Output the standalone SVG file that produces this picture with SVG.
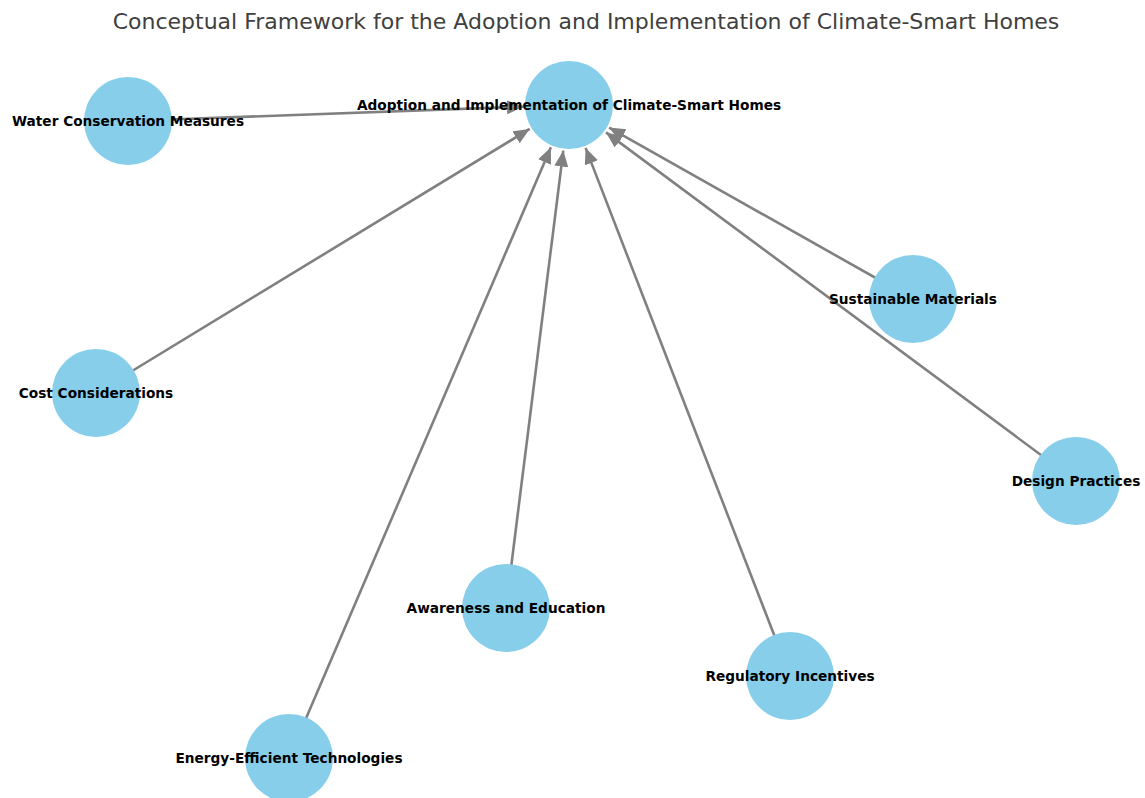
<svg xmlns="http://www.w3.org/2000/svg" width="1145" height="798" viewBox="0 0 1145 798">
<style>
.title{font-family:"DejaVu Sans",sans-serif;font-size:22px;fill:#404040;text-anchor:middle}
.node circle{fill:#87CEEB}
.node text{font-family:"DejaVu Sans",sans-serif;font-weight:bold;font-size:13.7px;fill:#000;text-anchor:middle;dominant-baseline:central}
.edge{stroke:#808080;stroke-width:2.6;fill:none;marker-end:url(#ah)}
</style>
<defs>
<marker id="ah" markerUnits="userSpaceOnUse" markerWidth="17" markerHeight="15" refX="16" refY="7" orient="auto">
<path d="M0,0 L16,7 L0,14 z" fill="#808080"/>
</marker>
</defs>
<rect width="1145" height="798" fill="#fff"/>
<text class="title" x="586" y="29">Conceptual Framework for the Adoption and Implementation of Climate-Smart Homes</text>
<g id="edges">
<line class="edge" x1="128" y1="121" x2="523.0" y2="106.7"/>
<line class="edge" x1="96" y1="393" x2="529.7" y2="128.9"/>
<line class="edge" x1="289" y1="758" x2="550.9" y2="147.3"/>
<line class="edge" x1="506" y1="608" x2="563.3" y2="150.6"/>
<line class="edge" x1="790" y1="676" x2="585.6" y2="147.9"/>
<line class="edge" x1="1076" y1="481" x2="606.0" y2="132.4"/>
<line class="edge" x1="913" y1="299" x2="609.1" y2="127.6"/>
</g>
<g id="node-center" class="node"><circle cx="569" cy="105" r="44"/><text x="569" y="105">Adoption and Implementation of Climate-Smart Homes</text></g>
<g id="node-water" class="node"><circle cx="128" cy="121" r="44"/><text x="128" y="121">Water Conservation Measures</text></g>
<g id="node-cost" class="node"><circle cx="96" cy="393" r="44"/><text x="96" y="393">Cost Considerations</text></g>
<g id="node-energy" class="node"><circle cx="289" cy="758" r="44"/><text x="289" y="758">Energy-Efficient Technologies</text></g>
<g id="node-awareness" class="node"><circle cx="506" cy="608" r="44"/><text x="506" y="608">Awareness and Education</text></g>
<g id="node-regulatory" class="node"><circle cx="790" cy="676" r="44"/><text x="790" y="676">Regulatory Incentives</text></g>
<g id="node-design" class="node"><circle cx="1076" cy="481" r="44"/><text x="1076" y="481">Design Practices</text></g>
<g id="node-sustainable" class="node"><circle cx="913" cy="299" r="44"/><text x="913" y="299">Sustainable Materials</text></g>
</svg>
